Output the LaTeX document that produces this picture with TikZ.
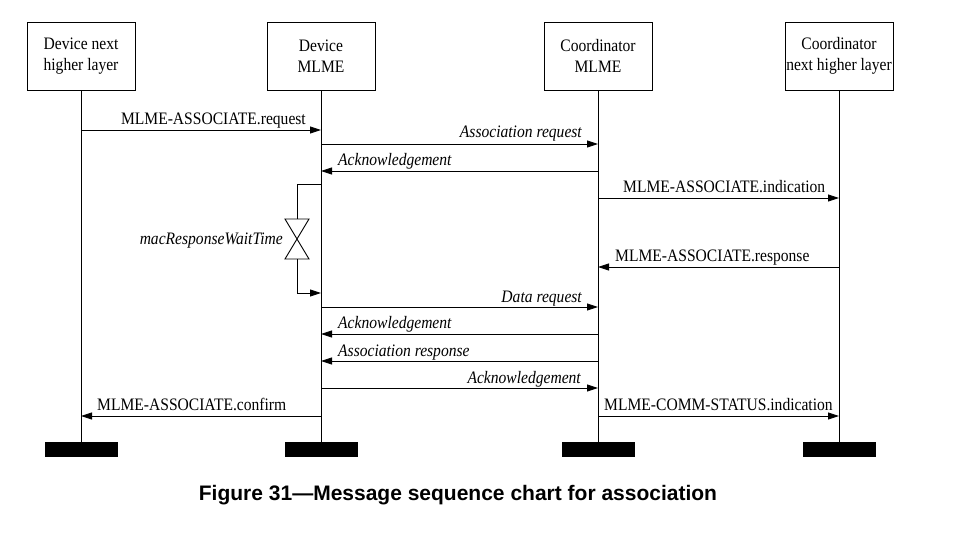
\documentclass[tikz,border=0pt]{standalone}
\usepackage{fontspec}
\setmainfont[FakeStretch=0.89]{Liberation Serif}
\newfontfamily\capfont{Liberation Sans}
\usetikzlibrary{arrows.meta}
\tikzset{
  box/.style={draw, line width=0.9pt, minimum width=108pt, minimum height=68pt, inner sep=0pt, align=center, font=\fontsize{17.5}{21}\selectfont},
  life/.style={line width=0.9pt},
  msg/.style={line width=0.9pt, -{Triangle[length=11pt,width=7pt]}},
  lbl/.style={inner sep=0pt, font=\fontsize{17.5}{19}\selectfont},
  ilbl/.style={inner sep=0pt, font=\fontsize{17.5}{19}\selectfont\itshape},
  endbar/.style={fill=black, draw=none, minimum width=73pt, minimum height=15pt, inner sep=0pt},
  timer/.style={line width=0.9pt}
}
\begin{document}
\begin{tikzpicture}[x=1pt,y=-1pt]
\useasboundingbox (0,0) rectangle (960,540);
% boxes
\node[box] (dnhl) at (81,56) {Device next\\higher layer};
\node[box] (dml) at (321,56) {Device\\MLME};
\node[box] (cml) at (598,56) {Coordinator\\MLME};
\node[box] (cnhl) at (839,56) {Coordinator\\next higher layer};
% end bars
\node[endbar] (b1) at (81,449.5) {};
\node[endbar] (b2) at (321,449.5) {};
\node[endbar] (b3) at (598,449.5) {};
\node[endbar] (b4) at (839,449.5) {};
% lifelines
\draw[life] (dnhl.south) -- (b1.north);
\draw[life] (dml.south) -- (b2.north);
\draw[life] (cml.south) -- (b3.north);
\draw[life] (cnhl.south) -- (b4.north);
% messages
\draw[msg] (dnhl |- 0,130) -- (dml |- 0,130);
\node[lbl, anchor=base east] (m1) at (306,125) {MLME-ASSOCIATE.request};
\draw[msg] (dml |- 0,144) -- (cml |- 0,144);
\node[ilbl, anchor=base east] (m2) at (582,138) {Association request};
\draw[msg] (cml |- 0,171) -- (dml |- 0,171);
\node[ilbl, anchor=base west] (m3) at (338,166) {Acknowledgement};
\draw[msg] (cml |- 0,198) -- (cnhl |- 0,198);
\node[lbl, anchor=base west] (m4) at (623,193) {MLME-ASSOCIATE.indication};
\draw[msg] (cnhl |- 0,267) -- (cml |- 0,267);
\node[lbl, anchor=base west] (m5) at (615,261) {MLME-ASSOCIATE.response};
\draw[msg] (dml |- 0,307) -- (cml |- 0,307);
\node[ilbl, anchor=base east] (m6) at (582,302) {Data request};
\draw[msg] (cml |- 0,334) -- (dml |- 0,334);
\node[ilbl, anchor=base west] (m7) at (338,328) {Acknowledgement};
\draw[msg] (cml |- 0,361) -- (dml |- 0,361);
\node[ilbl, anchor=base west] (m8) at (338,356) {Association response};
\draw[msg] (dml |- 0,388) -- (cml |- 0,388);
\node[ilbl, anchor=base east] (m9) at (581,383) {Acknowledgement};
\draw[msg] (dml |- 0,416) -- (dnhl |- 0,416);
\node[lbl, anchor=base west] (m10) at (97,410) {MLME-ASSOCIATE.confirm};
\draw[msg] (cml |- 0,416) -- (cnhl |- 0,416);
\node[lbl, anchor=base west] (m11) at (604,410) {MLME-COMM-STATUS.indication};
% timer
\coordinate (t0) at (321,184);
\coordinate (t1) at (297,184);
\coordinate (t2) at (297,219);
\coordinate (t3) at (297,259);
\coordinate (t4) at (297,293);
\draw[timer] (t0) -- (t1) -- (t2);
\draw[timer] (285,219) -- (309,219) -- (285,259) -- (309,259) -- cycle;
\draw[msg] (t3) -- (t4) -- (dml |- t4);
\node[ilbl, anchor=base east] (tl) at (283,244) {macResponseWaitTime};
% caption
\node[inner sep=0pt, anchor=base, font=\capfont\bfseries\fontsize{21}{25}\selectfont] (cap) at (458,500) {Figure 31—Message sequence chart for association};
\end{tikzpicture}
\end{document}
